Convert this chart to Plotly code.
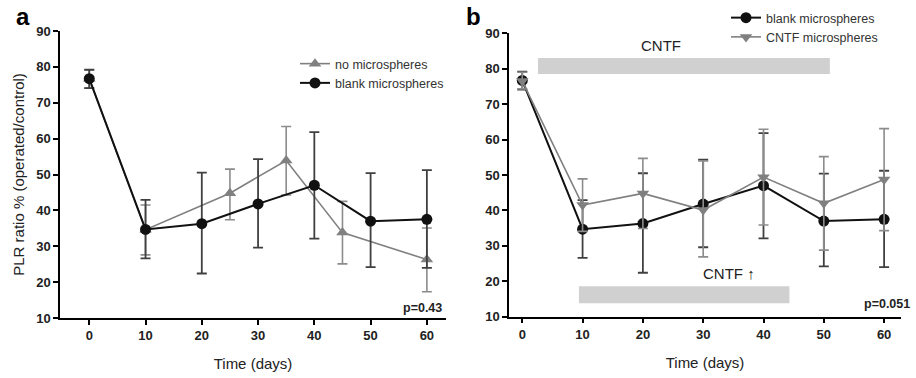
import plotly.graph_objects as go

# ---------------- data ----------------
days_a_none = [0, 10, 25, 35, 45, 60]
none_mean = [76.7, 34.6, 44.8, 53.9, 33.8, 26.3]
none_up = [79.2, 41.5, 51.5, 63.4, 42.5, 35.1]
none_lo = [74.1, 27.6, 37.4, 44.3, 25.1, 17.3]

days = [0, 10, 20, 30, 40, 50, 60]
blank_mean = [76.7, 34.7, 36.3, 41.8, 47.0, 37.0, 37.5]
blank_up = [79.2, 42.9, 50.5, 54.3, 61.8, 50.4, 51.2]
blank_lo = [74.1, 26.6, 22.4, 29.6, 32.1, 24.2, 24.0]

cntf_mean = [76.5, 41.5, 44.8, 40.1, 49.4, 42.0, 48.7]
cntf_up = [79.0, 48.9, 54.7, 54.0, 62.9, 55.2, 63.1]
cntf_lo = [74.3, 34.1, 34.9, 26.9, 35.9, 28.8, 34.3]

cntf_period = [2.6, 51.0]        # CNTF bar (days)
cntf_up_period = [9.4, 44.3]     # CNTF ↑ bar (days)
cntf_band = [78.5, 83.0]         # vertical extent of bar
cntf_up_band = [13.8, 18.6]

x_ticks = [0, 10, 20, 30, 40, 50, 60]
y_ticks = [10, 20, 30, 40, 50, 60, 70, 80, 90]
p_a = "p=0.43"
p_b = "p=0.051"

FONT = "Arial, Liberation Sans, sans-serif"
BLACK = "#111111"
GRAY = "#808080"

def err(mean, up, lo, color, w):
    return dict(type="data", symmetric=False,
                array=[u - m for u, m in zip(up, mean)],
                arrayminus=[m - l for m, l in zip(mean, lo)],
                color=color, thickness=w, width=5)

fig = go.Figure()

# panel a
fig.add_trace(go.Scatter(x=days_a_none, y=none_mean, mode="lines+markers",
    name="no microspheres", legend="legend",
    line=dict(color=GRAY, width=1.6),
    marker=dict(symbol="triangle-up", size=11, color=GRAY),
    error_y=err(none_mean, none_up, none_lo, "#8c8c8c", 1.6),
    xaxis="x", yaxis="y"))
fig.add_trace(go.Scatter(x=days, y=blank_mean, mode="lines+markers",
    name="blank microspheres", legend="legend",
    line=dict(color=BLACK, width=2),
    marker=dict(symbol="circle", size=11, color=BLACK),
    error_y=err(blank_mean, blank_up, blank_lo, "#404040", 1.8),
    xaxis="x", yaxis="y"))

# panel b
fig.add_trace(go.Scatter(x=days, y=blank_mean, mode="lines+markers",
    name="blank microspheres", legend="legend2",
    line=dict(color=BLACK, width=2),
    marker=dict(symbol="circle", size=11, color=BLACK),
    error_y=err(blank_mean, blank_up, blank_lo, "#404040", 1.8),
    xaxis="x2", yaxis="y2"))
fig.add_trace(go.Scatter(x=days, y=cntf_mean, mode="lines+markers",
    name="CNTF microspheres", legend="legend2",
    line=dict(color=GRAY, width=1.6),
    marker=dict(symbol="triangle-down", size=11, color=GRAY),
    error_y=err(cntf_mean, cntf_up, cntf_lo, "#8c8c8c", 1.6),
    xaxis="x2", yaxis="y2"))

axis_common = dict(showline=True, linecolor="black", linewidth=1.5,
                   ticks="outside", ticklen=5, tickcolor="black", tickwidth=1.5,
                   showgrid=False, zeroline=False, automargin=False,
                   tickfont=dict(family=FONT, size=13, color="#222", weight="bold"))

title_font = dict(family=FONT, size=15, color="#222")

fig.update_layout(
    width=916, height=378,
    margin=dict(l=0, r=0, t=0, b=0, autoexpand=False),
    paper_bgcolor="white", plot_bgcolor="white",
    font=dict(family=FONT, color="#222"),
    xaxis=dict(domain=[60/916, 446/916], range=[-5.2, 63.4], tickvals=x_ticks,
               title=dict(text="Time (days)", font=title_font, standoff=16),
               anchor="y", **axis_common),
    yaxis=dict(domain=[1-318/378, 1-31/378], range=[10, 90], tickvals=y_ticks,
               title=dict(text="PLR ratio % (operated/control)", font=title_font, standoff=8),
               anchor="x", **axis_common),
    xaxis2=dict(domain=[509/916, 901/916], range=[-2.2, 62.8], tickvals=x_ticks,
                title=dict(text="Time (days)", font=title_font, standoff=16),
                anchor="y2", **axis_common),
    yaxis2=dict(domain=[1-316.7/378, 1-33.3/378], range=[10, 90], tickvals=y_ticks,
                anchor="x2", **axis_common),
    legend=dict(x=295/916, y=1-49/378, xanchor="left", yanchor="top",
                bgcolor="rgba(0,0,0,0)", font=dict(size=12.5, color="#333"),
                tracegroupgap=0, itemwidth=30),
    legend2=dict(x=726/916, y=1-3/378, xanchor="left", yanchor="top",
                 bgcolor="rgba(0,0,0,0)", font=dict(size=12.5, color="#333"),
                 tracegroupgap=0, itemwidth=30),
    showlegend=True,
)

# gray treatment bars in panel b
fig.add_shape(type="rect", xref="x2", yref="y2",
              x0=cntf_period[0], x1=cntf_period[1], y0=cntf_band[0], y1=cntf_band[1],
              fillcolor="#d0d0d0", line=dict(width=0), layer="below")
fig.add_shape(type="rect", xref="x2", yref="y2",
              x0=cntf_up_period[0], x1=cntf_up_period[1], y0=cntf_up_band[0], y1=cntf_up_band[1],
              fillcolor="#d0d0d0", line=dict(width=0), layer="below")

fig.add_annotation(xref="x2", yref="y2", x=sum(cntf_period)/2 - 3.8, y=cntf_band[1],
                   text="CNTF", showarrow=False, yanchor="bottom", yshift=2,
                   font=dict(size=15, color="#222"))
fig.add_annotation(xref="x2", yref="y2", x=sum(cntf_up_period)/2 + 7.5, y=cntf_up_band[1],
                   text="CNTF ↑", showarrow=False, yanchor="bottom", yshift=2,
                   font=dict(size=15, color="#222"))

# p-values
fig.add_annotation(xref="x", yref="y", x=59.2, y=12.8, text=p_a, showarrow=False,
                   font=dict(size=12.5, color="#222", weight="bold"))
fig.add_annotation(xref="x2", yref="y2", x=60.5, y=13.6, text=p_b, showarrow=False,
                   font=dict(size=12.5, color="#222", weight="bold"))

# panel letters
fig.add_annotation(xref="paper", yref="paper", x=14/916, y=1-1/378, xanchor="left", yanchor="top",
                   text="a", showarrow=False, font=dict(size=24, color="black", weight="bold"))
fig.add_annotation(xref="paper", yref="paper", x=464/916, y=1-1/378, xanchor="left", yanchor="top",
                   text="b", showarrow=False, font=dict(size=24, color="black", weight="bold"))

fig.write_html("out.html", config={"displayModeBar": False},
               post_script="document.body.style.margin='0';document.body.style.padding='0';")
